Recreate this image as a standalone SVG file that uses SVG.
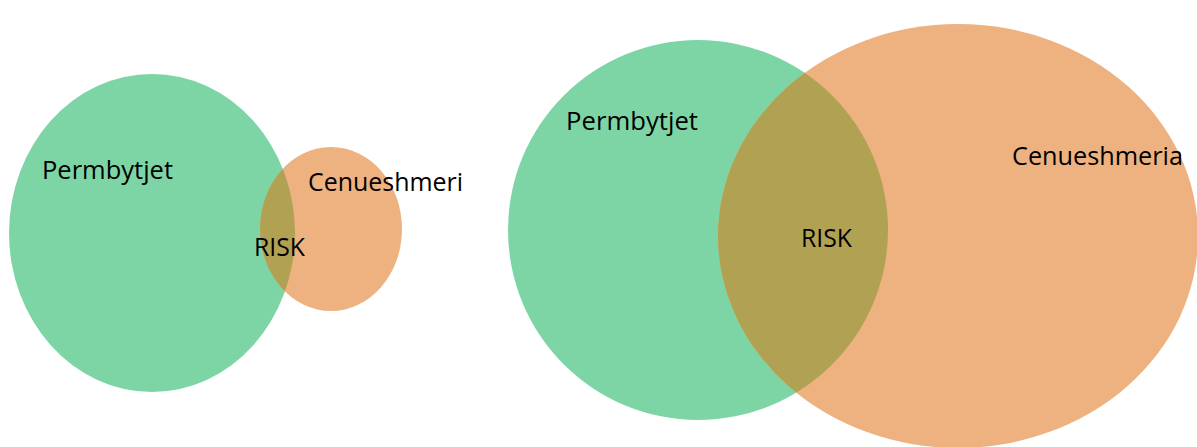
<svg xmlns="http://www.w3.org/2000/svg" width="1197" height="447" viewBox="0 0 1197 447">
  <style>
    .green { fill: #7dd5a6; }
    .orange { fill: #eeb280; }
    .lens { fill: #b1a253; }
    .lbl { font-family: "Open Sans", "Liberation Sans", sans-serif; font-size: 25px; fill: #000; }
  </style>
  <defs>
    <clipPath id="clipGreenL"><ellipse cx="152" cy="233" rx="143" ry="159"/></clipPath>
    <clipPath id="clipGreenR"><ellipse cx="698" cy="230" rx="190" ry="190"/></clipPath>
  </defs>

  <!-- small pair -->
  <g id="left-set-a">
    <ellipse class="green" cx="152" cy="233" rx="143" ry="159"/>
  </g>
  <g id="left-set-b">
    <ellipse class="orange" cx="331" cy="229" rx="71" ry="82"/>
    <ellipse class="lens" cx="331" cy="229" rx="71" ry="82" clip-path="url(#clipGreenL)"/>
  </g>

  <!-- large pair -->
  <g id="right-set-a">
    <ellipse class="green" cx="698" cy="230" rx="190" ry="190"/>
  </g>
  <g id="right-set-b">
    <ellipse class="orange" cx="958" cy="236" rx="240" ry="212"/>
    <ellipse class="lens" cx="958" cy="236" rx="240" ry="212" clip-path="url(#clipGreenR)"/>
  </g>

  <g id="labels">
    <text class="lbl" x="42" y="179" textLength="131" lengthAdjust="spacingAndGlyphs">Permbytjet</text>
    <text class="lbl" x="308" y="191" textLength="155" lengthAdjust="spacingAndGlyphs">Cenueshmeri</text>
    <text class="lbl" x="254" y="256" textLength="51" lengthAdjust="spacingAndGlyphs">RISK</text>
    <text class="lbl" x="566" y="130" textLength="132" lengthAdjust="spacingAndGlyphs">Permbytjet</text>
    <text class="lbl" x="1012" y="165" textLength="171" lengthAdjust="spacingAndGlyphs">Cenueshmeria</text>
    <text class="lbl" x="801" y="247" textLength="51" lengthAdjust="spacingAndGlyphs">RISK</text>
  </g>
</svg>
